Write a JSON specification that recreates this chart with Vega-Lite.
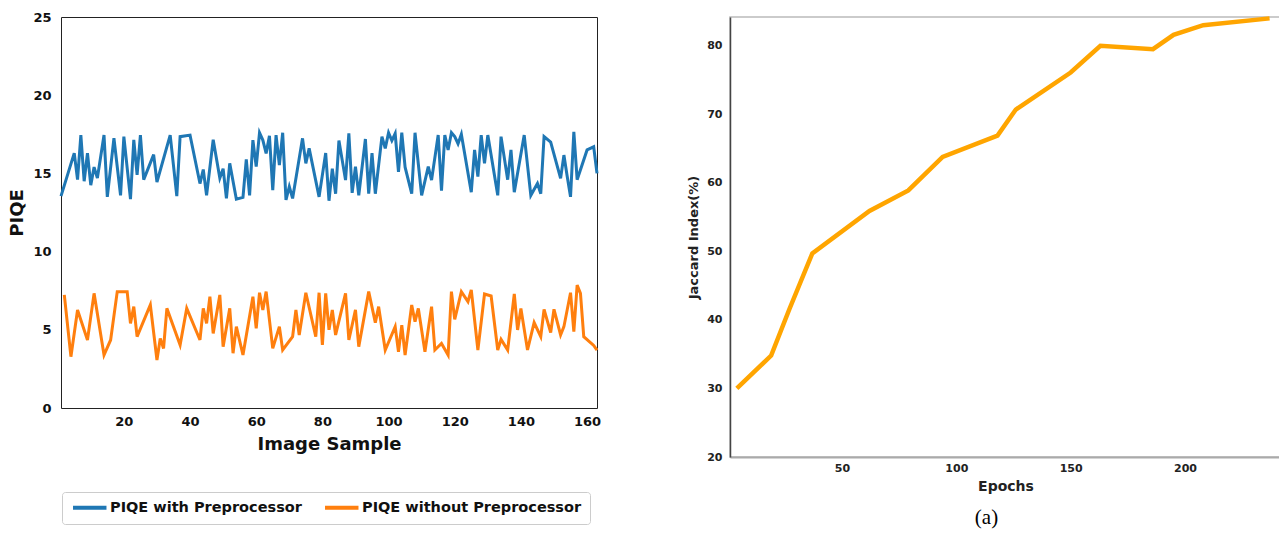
{
  "$schema": "https://vega.github.io/schema/vega-lite/v6.json",
  "padding": {"left": 8, "top": 8, "right": 0, "bottom": 0},
  "background": "white",
  "config": {"font": "DejaVu Sans", "view": {"stroke": null}, "concat": {"spacing": 82}},
  "resolve": {"scale": {"color": "independent"}, "legend": {"color": "independent"}},
  "datasets": {
    "piqe": [
      {"sample": 1, "piqe": 13.55, "series": "PIQE with Preprocessor"},
      {"sample": 5, "piqe": 16.3, "series": "PIQE with Preprocessor"},
      {"sample": 6, "piqe": 14.6, "series": "PIQE with Preprocessor"},
      {"sample": 7, "piqe": 17.45, "series": "PIQE with Preprocessor"},
      {"sample": 8, "piqe": 14.5, "series": "PIQE with Preprocessor"},
      {"sample": 9, "piqe": 16.3, "series": "PIQE with Preprocessor"},
      {"sample": 10, "piqe": 14.25, "series": "PIQE with Preprocessor"},
      {"sample": 11, "piqe": 15.4, "series": "PIQE with Preprocessor"},
      {"sample": 12, "piqe": 14.7, "series": "PIQE with Preprocessor"},
      {"sample": 14, "piqe": 17.45, "series": "PIQE with Preprocessor"},
      {"sample": 15, "piqe": 13.5, "series": "PIQE with Preprocessor"},
      {"sample": 17, "piqe": 17.25, "series": "PIQE with Preprocessor"},
      {"sample": 19, "piqe": 13.6, "series": "PIQE with Preprocessor"},
      {"sample": 20, "piqe": 17.35, "series": "PIQE with Preprocessor"},
      {"sample": 22, "piqe": 13.35, "series": "PIQE with Preprocessor"},
      {"sample": 23, "piqe": 17.15, "series": "PIQE with Preprocessor"},
      {"sample": 24, "piqe": 14.9, "series": "PIQE with Preprocessor"},
      {"sample": 25, "piqe": 17.45, "series": "PIQE with Preprocessor"},
      {"sample": 26, "piqe": 14.6, "series": "PIQE with Preprocessor"},
      {"sample": 29, "piqe": 16.2, "series": "PIQE with Preprocessor"},
      {"sample": 30, "piqe": 14.45, "series": "PIQE with Preprocessor"},
      {"sample": 34, "piqe": 17.45, "series": "PIQE with Preprocessor"},
      {"sample": 36, "piqe": 13.55, "series": "PIQE with Preprocessor"},
      {"sample": 37, "piqe": 17.35, "series": "PIQE with Preprocessor"},
      {"sample": 40, "piqe": 17.45, "series": "PIQE with Preprocessor"},
      {"sample": 43, "piqe": 14.35, "series": "PIQE with Preprocessor"},
      {"sample": 44, "piqe": 15.25, "series": "PIQE with Preprocessor"},
      {"sample": 45, "piqe": 13.6, "series": "PIQE with Preprocessor"},
      {"sample": 47, "piqe": 17.15, "series": "PIQE with Preprocessor"},
      {"sample": 49, "piqe": 14.7, "series": "PIQE with Preprocessor"},
      {"sample": 50, "piqe": 15.3, "series": "PIQE with Preprocessor"},
      {"sample": 51, "piqe": 13.4, "series": "PIQE with Preprocessor"},
      {"sample": 52, "piqe": 15.64, "series": "PIQE with Preprocessor"},
      {"sample": 54, "piqe": 13.35, "series": "PIQE with Preprocessor"},
      {"sample": 56, "piqe": 13.47, "series": "PIQE with Preprocessor"},
      {"sample": 57, "piqe": 15.9, "series": "PIQE with Preprocessor"},
      {"sample": 58, "piqe": 13.6, "series": "PIQE with Preprocessor"},
      {"sample": 59, "piqe": 17.13, "series": "PIQE with Preprocessor"},
      {"sample": 60, "piqe": 15.43, "series": "PIQE with Preprocessor"},
      {"sample": 61, "piqe": 17.6, "series": "PIQE with Preprocessor"},
      {"sample": 62, "piqe": 17.13, "series": "PIQE with Preprocessor"},
      {"sample": 63, "piqe": 16.28, "series": "PIQE with Preprocessor"},
      {"sample": 64, "piqe": 17.4, "series": "PIQE with Preprocessor"},
      {"sample": 65, "piqe": 13.93, "series": "PIQE with Preprocessor"},
      {"sample": 66, "piqe": 17.45, "series": "PIQE with Preprocessor"},
      {"sample": 67, "piqe": 15.53, "series": "PIQE with Preprocessor"},
      {"sample": 68, "piqe": 17.6, "series": "PIQE with Preprocessor"},
      {"sample": 69, "piqe": 13.3, "series": "PIQE with Preprocessor"},
      {"sample": 70, "piqe": 14.15, "series": "PIQE with Preprocessor"},
      {"sample": 71, "piqe": 13.4, "series": "PIQE with Preprocessor"},
      {"sample": 74, "piqe": 17.24, "series": "PIQE with Preprocessor"},
      {"sample": 75, "piqe": 15.64, "series": "PIQE with Preprocessor"},
      {"sample": 76, "piqe": 16.6, "series": "PIQE with Preprocessor"},
      {"sample": 79, "piqe": 13.5, "series": "PIQE with Preprocessor"},
      {"sample": 81, "piqe": 16.3, "series": "PIQE with Preprocessor"},
      {"sample": 82, "piqe": 13.25, "series": "PIQE with Preprocessor"},
      {"sample": 83, "piqe": 15.3, "series": "PIQE with Preprocessor"},
      {"sample": 84, "piqe": 13.7, "series": "PIQE with Preprocessor"},
      {"sample": 85, "piqe": 17.1, "series": "PIQE with Preprocessor"},
      {"sample": 87, "piqe": 14.57, "series": "PIQE with Preprocessor"},
      {"sample": 88, "piqe": 17.56, "series": "PIQE with Preprocessor"},
      {"sample": 89, "piqe": 13.76, "series": "PIQE with Preprocessor"},
      {"sample": 90, "piqe": 15.43, "series": "PIQE with Preprocessor"},
      {"sample": 91, "piqe": 13.6, "series": "PIQE with Preprocessor"},
      {"sample": 93, "piqe": 17.2, "series": "PIQE with Preprocessor"},
      {"sample": 94, "piqe": 13.7, "series": "PIQE with Preprocessor"},
      {"sample": 95, "piqe": 16.3, "series": "PIQE with Preprocessor"},
      {"sample": 96, "piqe": 13.7, "series": "PIQE with Preprocessor"},
      {"sample": 98, "piqe": 17.35, "series": "PIQE with Preprocessor"},
      {"sample": 99, "piqe": 16.6, "series": "PIQE with Preprocessor"},
      {"sample": 100, "piqe": 17.6, "series": "PIQE with Preprocessor"},
      {"sample": 101, "piqe": 17.1, "series": "PIQE with Preprocessor"},
      {"sample": 102, "piqe": 17.55, "series": "PIQE with Preprocessor"},
      {"sample": 103, "piqe": 15.1, "series": "PIQE with Preprocessor"},
      {"sample": 104, "piqe": 17.6, "series": "PIQE with Preprocessor"},
      {"sample": 105, "piqe": 15.4, "series": "PIQE with Preprocessor"},
      {"sample": 107, "piqe": 13.7, "series": "PIQE with Preprocessor"},
      {"sample": 108, "piqe": 17.6, "series": "PIQE with Preprocessor"},
      {"sample": 110, "piqe": 13.6, "series": "PIQE with Preprocessor"},
      {"sample": 112, "piqe": 15.43, "series": "PIQE with Preprocessor"},
      {"sample": 113, "piqe": 14.57, "series": "PIQE with Preprocessor"},
      {"sample": 115, "piqe": 17.45, "series": "PIQE with Preprocessor"},
      {"sample": 116, "piqe": 13.9, "series": "PIQE with Preprocessor"},
      {"sample": 117, "piqe": 17.45, "series": "PIQE with Preprocessor"},
      {"sample": 118, "piqe": 16.5, "series": "PIQE with Preprocessor"},
      {"sample": 119, "piqe": 17.6, "series": "PIQE with Preprocessor"},
      {"sample": 120, "piqe": 17.35, "series": "PIQE with Preprocessor"},
      {"sample": 121, "piqe": 16.9, "series": "PIQE with Preprocessor"},
      {"sample": 122, "piqe": 17.5, "series": "PIQE with Preprocessor"},
      {"sample": 125, "piqe": 13.8, "series": "PIQE with Preprocessor"},
      {"sample": 126, "piqe": 16.5, "series": "PIQE with Preprocessor"},
      {"sample": 127, "piqe": 14.8, "series": "PIQE with Preprocessor"},
      {"sample": 128, "piqe": 17.45, "series": "PIQE with Preprocessor"},
      {"sample": 129, "piqe": 15.64, "series": "PIQE with Preprocessor"},
      {"sample": 130, "piqe": 17.45, "series": "PIQE with Preprocessor"},
      {"sample": 133, "piqe": 13.6, "series": "PIQE with Preprocessor"},
      {"sample": 134, "piqe": 17.35, "series": "PIQE with Preprocessor"},
      {"sample": 136, "piqe": 14.6, "series": "PIQE with Preprocessor"},
      {"sample": 137, "piqe": 16.5, "series": "PIQE with Preprocessor"},
      {"sample": 138, "piqe": 13.8, "series": "PIQE with Preprocessor"},
      {"sample": 141, "piqe": 17.45, "series": "PIQE with Preprocessor"},
      {"sample": 143, "piqe": 13.6, "series": "PIQE with Preprocessor"},
      {"sample": 145, "piqe": 14.36, "series": "PIQE with Preprocessor"},
      {"sample": 146, "piqe": 13.7, "series": "PIQE with Preprocessor"},
      {"sample": 147, "piqe": 17.35, "series": "PIQE with Preprocessor"},
      {"sample": 149, "piqe": 17.0, "series": "PIQE with Preprocessor"},
      {"sample": 152, "piqe": 14.68, "series": "PIQE with Preprocessor"},
      {"sample": 153, "piqe": 16.17, "series": "PIQE with Preprocessor"},
      {"sample": 154, "piqe": 14.8, "series": "PIQE with Preprocessor"},
      {"sample": 155, "piqe": 13.5, "series": "PIQE with Preprocessor"},
      {"sample": 156, "piqe": 17.66, "series": "PIQE with Preprocessor"},
      {"sample": 157, "piqe": 14.6, "series": "PIQE with Preprocessor"},
      {"sample": 160, "piqe": 16.5, "series": "PIQE with Preprocessor"},
      {"sample": 162, "piqe": 16.7, "series": "PIQE with Preprocessor"},
      {"sample": 163, "piqe": 15.0, "series": "PIQE with Preprocessor"},
      {"sample": 2, "piqe": 7.23, "series": "PIQE without Preprocessor"},
      {"sample": 4, "piqe": 3.28, "series": "PIQE without Preprocessor"},
      {"sample": 6, "piqe": 6.27, "series": "PIQE without Preprocessor"},
      {"sample": 9, "piqe": 4.35, "series": "PIQE without Preprocessor"},
      {"sample": 11, "piqe": 7.33, "series": "PIQE without Preprocessor"},
      {"sample": 14, "piqe": 3.39, "series": "PIQE without Preprocessor"},
      {"sample": 16, "piqe": 4.35, "series": "PIQE without Preprocessor"},
      {"sample": 18, "piqe": 7.44, "series": "PIQE without Preprocessor"},
      {"sample": 21, "piqe": 7.44, "series": "PIQE without Preprocessor"},
      {"sample": 22, "piqe": 5.41, "series": "PIQE without Preprocessor"},
      {"sample": 23, "piqe": 6.48, "series": "PIQE without Preprocessor"},
      {"sample": 24, "piqe": 4.56, "series": "PIQE without Preprocessor"},
      {"sample": 28, "piqe": 6.59, "series": "PIQE without Preprocessor"},
      {"sample": 30, "piqe": 3.07, "series": "PIQE without Preprocessor"},
      {"sample": 31, "piqe": 4.45, "series": "PIQE without Preprocessor"},
      {"sample": 32, "piqe": 3.81, "series": "PIQE without Preprocessor"},
      {"sample": 33, "piqe": 6.37, "series": "PIQE without Preprocessor"},
      {"sample": 37, "piqe": 4.03, "series": "PIQE without Preprocessor"},
      {"sample": 39, "piqe": 6.37, "series": "PIQE without Preprocessor"},
      {"sample": 43, "piqe": 4.35, "series": "PIQE without Preprocessor"},
      {"sample": 44, "piqe": 6.37, "series": "PIQE without Preprocessor"},
      {"sample": 45, "piqe": 5.41, "series": "PIQE without Preprocessor"},
      {"sample": 46, "piqe": 7.12, "series": "PIQE without Preprocessor"},
      {"sample": 47, "piqe": 4.77, "series": "PIQE without Preprocessor"},
      {"sample": 49, "piqe": 7.23, "series": "PIQE without Preprocessor"},
      {"sample": 50, "piqe": 3.92, "series": "PIQE without Preprocessor"},
      {"sample": 52, "piqe": 6.37, "series": "PIQE without Preprocessor"},
      {"sample": 53, "piqe": 3.5, "series": "PIQE without Preprocessor"},
      {"sample": 54, "piqe": 5.2, "series": "PIQE without Preprocessor"},
      {"sample": 56, "piqe": 3.39, "series": "PIQE without Preprocessor"},
      {"sample": 59, "piqe": 7.12, "series": "PIQE without Preprocessor"},
      {"sample": 60, "piqe": 5.1, "series": "PIQE without Preprocessor"},
      {"sample": 61, "piqe": 7.37, "series": "PIQE without Preprocessor"},
      {"sample": 62, "piqe": 6.27, "series": "PIQE without Preprocessor"},
      {"sample": 63, "piqe": 7.44, "series": "PIQE without Preprocessor"},
      {"sample": 65, "piqe": 3.81, "series": "PIQE without Preprocessor"},
      {"sample": 67, "piqe": 5.2, "series": "PIQE without Preprocessor"},
      {"sample": 68, "piqe": 3.71, "series": "PIQE without Preprocessor"},
      {"sample": 71, "piqe": 4.56, "series": "PIQE without Preprocessor"},
      {"sample": 72, "piqe": 6.27, "series": "PIQE without Preprocessor"},
      {"sample": 73, "piqe": 4.67, "series": "PIQE without Preprocessor"},
      {"sample": 75, "piqe": 7.37, "series": "PIQE without Preprocessor"},
      {"sample": 78, "piqe": 4.56, "series": "PIQE without Preprocessor"},
      {"sample": 79, "piqe": 7.37, "series": "PIQE without Preprocessor"},
      {"sample": 80, "piqe": 4.03, "series": "PIQE without Preprocessor"},
      {"sample": 81, "piqe": 7.33, "series": "PIQE without Preprocessor"},
      {"sample": 82, "piqe": 5.0, "series": "PIQE without Preprocessor"},
      {"sample": 83, "piqe": 6.27, "series": "PIQE without Preprocessor"},
      {"sample": 84, "piqe": 4.67, "series": "PIQE without Preprocessor"},
      {"sample": 87, "piqe": 7.33, "series": "PIQE without Preprocessor"},
      {"sample": 88, "piqe": 4.35, "series": "PIQE without Preprocessor"},
      {"sample": 90, "piqe": 6.27, "series": "PIQE without Preprocessor"},
      {"sample": 91, "piqe": 3.92, "series": "PIQE without Preprocessor"},
      {"sample": 94, "piqe": 7.44, "series": "PIQE without Preprocessor"},
      {"sample": 96, "piqe": 5.46, "series": "PIQE without Preprocessor"},
      {"sample": 97, "piqe": 6.48, "series": "PIQE without Preprocessor"},
      {"sample": 99, "piqe": 3.71, "series": "PIQE without Preprocessor"},
      {"sample": 102, "piqe": 5.2, "series": "PIQE without Preprocessor"},
      {"sample": 103, "piqe": 3.6, "series": "PIQE without Preprocessor"},
      {"sample": 104, "piqe": 5.3, "series": "PIQE without Preprocessor"},
      {"sample": 105, "piqe": 3.39, "series": "PIQE without Preprocessor"},
      {"sample": 107, "piqe": 6.59, "series": "PIQE without Preprocessor"},
      {"sample": 108, "piqe": 5.52, "series": "PIQE without Preprocessor"},
      {"sample": 109, "piqe": 6.37, "series": "PIQE without Preprocessor"},
      {"sample": 111, "piqe": 3.6, "series": "PIQE without Preprocessor"},
      {"sample": 113, "piqe": 6.48, "series": "PIQE without Preprocessor"},
      {"sample": 114, "piqe": 3.71, "series": "PIQE without Preprocessor"},
      {"sample": 116, "piqe": 4.13, "series": "PIQE without Preprocessor"},
      {"sample": 118, "piqe": 3.39, "series": "PIQE without Preprocessor"},
      {"sample": 119, "piqe": 7.44, "series": "PIQE without Preprocessor"},
      {"sample": 120, "piqe": 5.67, "series": "PIQE without Preprocessor"},
      {"sample": 122, "piqe": 7.44, "series": "PIQE without Preprocessor"},
      {"sample": 124, "piqe": 6.8, "series": "PIQE without Preprocessor"},
      {"sample": 125, "piqe": 7.55, "series": "PIQE without Preprocessor"},
      {"sample": 127, "piqe": 3.71, "series": "PIQE without Preprocessor"},
      {"sample": 129, "piqe": 7.29, "series": "PIQE without Preprocessor"},
      {"sample": 131, "piqe": 7.16, "series": "PIQE without Preprocessor"},
      {"sample": 133, "piqe": 3.71, "series": "PIQE without Preprocessor"},
      {"sample": 134, "piqe": 4.39, "series": "PIQE without Preprocessor"},
      {"sample": 136, "piqe": 3.71, "series": "PIQE without Preprocessor"},
      {"sample": 138, "piqe": 7.29, "series": "PIQE without Preprocessor"},
      {"sample": 139, "piqe": 4.99, "series": "PIQE without Preprocessor"},
      {"sample": 140, "piqe": 6.37, "series": "PIQE without Preprocessor"},
      {"sample": 142, "piqe": 3.71, "series": "PIQE without Preprocessor"},
      {"sample": 144, "piqe": 5.46, "series": "PIQE without Preprocessor"},
      {"sample": 146, "piqe": 4.56, "series": "PIQE without Preprocessor"},
      {"sample": 147, "piqe": 6.31, "series": "PIQE without Preprocessor"},
      {"sample": 149, "piqe": 4.82, "series": "PIQE without Preprocessor"},
      {"sample": 150, "piqe": 6.31, "series": "PIQE without Preprocessor"},
      {"sample": 152, "piqe": 4.67, "series": "PIQE without Preprocessor"},
      {"sample": 153, "piqe": 5.2, "series": "PIQE without Preprocessor"},
      {"sample": 155, "piqe": 7.37, "series": "PIQE without Preprocessor"},
      {"sample": 156, "piqe": 4.88, "series": "PIQE without Preprocessor"},
      {"sample": 157, "piqe": 7.86, "series": "PIQE without Preprocessor"},
      {"sample": 158, "piqe": 7.33, "series": "PIQE without Preprocessor"},
      {"sample": 159, "piqe": 4.56, "series": "PIQE without Preprocessor"},
      {"sample": 162, "piqe": 4.0, "series": "PIQE without Preprocessor"},
      {"sample": 163, "piqe": 3.7, "series": "PIQE without Preprocessor"}
    ],
    "jaccard": [
      {"epoch": 4, "jaccard": 30.0},
      {"epoch": 19, "jaccard": 34.8},
      {"epoch": 27, "jaccard": 41.6},
      {"epoch": 37, "jaccard": 49.7},
      {"epoch": 62, "jaccard": 55.9},
      {"epoch": 79, "jaccard": 58.9},
      {"epoch": 94, "jaccard": 63.8},
      {"epoch": 118, "jaccard": 66.9},
      {"epoch": 126, "jaccard": 70.7},
      {"epoch": 150, "jaccard": 76.1},
      {"epoch": 163, "jaccard": 80.0},
      {"epoch": 186, "jaccard": 79.5},
      {"epoch": 195, "jaccard": 81.6},
      {"epoch": 208, "jaccard": 83.0},
      {"epoch": 237, "jaccard": 84.0}
    ]
  },
  "hconcat": [
    {
      "width": 536,
      "height": 391,
      "data": {"name": "piqe"},
      "view": {"stroke": "#222", "strokeWidth": 1},
      "mark": {"type": "line", "strokeWidth": 3},
      "encoding": {
        "x": {
          "field": "sample", "type": "quantitative",
          "scale": {"domain": [1, 163], "nice": false, "zero": false},
          "axis": {"values": [20, 40, 60, 80, 100, 120, 140, 160], "title": "Image Sample", "titleFontSize": 18, "titleFontWeight": "bold", "titleColor": "#111", "labelFontSize": 13, "labelFontWeight": "bold", "labelColor": "#111", "ticks": false, "domain": false, "grid": false, "labelPadding": 7, "titlePadding": 7}
        },
        "y": {
          "field": "piqe", "type": "quantitative",
          "scale": {"domain": [0, 25], "nice": false},
          "axis": {"values": [0, 5, 10, 15, 20, 25], "title": "PIQE", "titleFontSize": 18, "titleFontWeight": "bold", "titleColor": "#111", "labelFontSize": 13, "labelFontWeight": "bold", "labelColor": "#111", "ticks": false, "domain": false, "grid": false, "labelPadding": 10, "titlePadding": 6}
        },
        "color": {
          "field": "series", "type": "nominal",
          "scale": {"domain": ["PIQE with Preprocessor", "PIQE without Preprocessor"], "range": ["#1f77b4", "#ff7f0e"]},
          "legend": {"orient": "none", "legendX": 1, "legendY": 475, "direction": "horizontal", "title": null, "symbolType": "M-4,0H4", "symbolSize": 70, "symbolOffset": 12.5, "symbolStrokeWidth": 4, "labelFontSize": 14.5, "labelFontWeight": "bold", "labelColor": "#111", "labelLimit": 0, "padding": 8, "strokeColor": "#ccc", "fillColor": "white", "cornerRadius": 3, "columnPadding": 15, "labelOffset": 13}
        }
      }
    },
    {
      "width": 551,
      "height": 440,
      "data": {"name": "jaccard"},
      "view": {"stroke": "#bbb", "strokeWidth": 1.5},
      "title": {"text": "(a)", "orient": "bottom", "font": "Liberation Serif", "fontSize": 21, "fontWeight": "normal", "color": "#000", "dx": -19, "offset": 14},
      "mark": {"type": "line", "color": "#FFA500", "strokeWidth": 4.5},
      "encoding": {
        "x": {
          "field": "epoch", "type": "quantitative",
          "scale": {"domain": [1, 242], "nice": false, "zero": false},
          "axis": {"values": [50, 100, 150, 200], "title": "Epochs", "titleFontSize": 14, "titleFontWeight": "bold", "titleColor": "#222", "labelFontSize": 11, "labelFontWeight": "bold", "labelColor": "#222", "ticks": false, "domain": true, "domainColor": "#aaa", "domainWidth": 2, "grid": false, "labelPadding": 5, "titlePadding": 6}
        },
        "y": {
          "field": "jaccard", "type": "quantitative",
          "scale": {"domain": [20, 84.2], "nice": false, "zero": false},
          "axis": {"values": [20, 30, 40, 50, 60, 70, 80], "title": "Jaccard Index(%)", "titleFontSize": 13, "titleFontWeight": "bold", "titleColor": "#222", "labelFontSize": 11, "labelFontWeight": "bold", "labelColor": "#222", "ticks": false, "domain": true, "domainColor": "#444", "domainWidth": 1.5, "grid": false, "labelPadding": 8, "titlePadding": 6}
        }
      }
    }
  ]
}
